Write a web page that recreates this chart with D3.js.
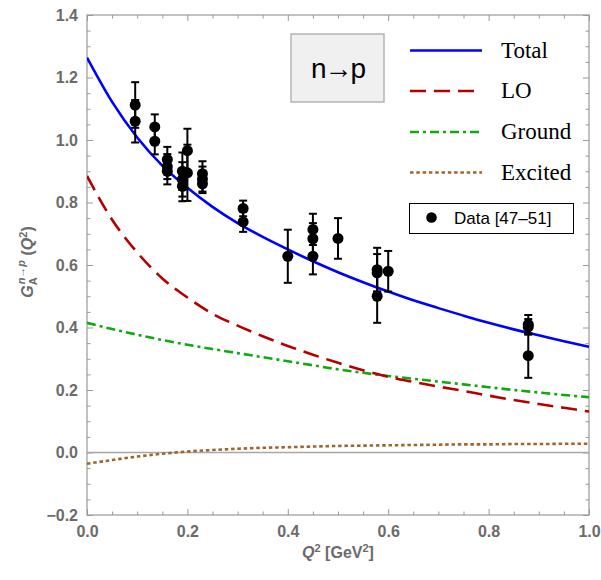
<!DOCTYPE html>
<html>
<head>
<meta charset="utf-8">
<script src="https://cdn.jsdelivr.net/npm/d3@7"></script>
<style>
  body { margin: 0; background: #fff; }
  svg { display: block; }
</style>
</head>
<body>
<div id="chart"></div>
<script>
// curve samples, Q^2 in GeV^2
var q2 = [0, 0.05, 0.1, 0.15, 0.2, 0.25, 0.3, 0.35, 0.4, 0.45, 0.5,
          0.55, 0.6, 0.65, 0.7, 0.75, 0.8, 0.85, 0.9, 0.95, 1.0]
var total = [1.264, 1.122, 1.008, 0.918, 0.847, 0.786, 0.734, 0.690, 0.650, 0.612, 0.577,
             0.545, 0.515, 0.487, 0.462, 0.438, 0.415, 0.394, 0.375, 0.356, 0.338]
var lo = [0.885, 0.745, 0.640, 0.557, 0.496, 0.444, 0.406, 0.372, 0.341, 0.313, 0.287,
          0.263, 0.242, 0.226, 0.211, 0.197, 0.182, 0.168, 0.155, 0.143, 0.131]
var ground = [0.415, 0.395, 0.377, 0.360, 0.345, 0.331, 0.318, 0.305, 0.292, 0.279, 0.266,
              0.255, 0.245, 0.236, 0.227, 0.218, 0.209, 0.200, 0.192, 0.184, 0.177]
var excited = [-0.036, -0.024, -0.013, -0.004, 0.003, 0.008, 0.012, 0.015, 0.017, 0.019, 0.021,
               0.022, 0.023, 0.024, 0.025, 0.026, 0.026, 0.027, 0.027, 0.028, 0.028]

// experimental points
var dataQ2 = [0.096, 0.096, 0.135, 0.135, 0.16, 0.16, 0.16,
              0.19, 0.19, 0.19, 0.2, 0.2, 0.23, 0.23, 0.23,
              0.311, 0.311, 0.4, 0.45, 0.45, 0.45, 0.5,
              0.578, 0.578, 0.578, 0.6, 0.879, 0.879, 0.879]
var dataG = [1.112, 1.060, 1.042, 0.996, 0.938, 0.915, 0.900,
             0.900, 0.874, 0.852, 0.966, 0.895, 0.892, 0.875, 0.860,
             0.781, 0.738, 0.628, 0.714, 0.684, 0.628, 0.685,
             0.585, 0.575, 0.500, 0.580, 0.410, 0.402, 0.310]
var dataErr = [0.073, 0.068, 0.040, 0.042, 0.040, 0.040, 0.042,
               0.060, 0.055, 0.048, 0.070, 0.090, 0.040, 0.040, 0.030,
               0.025, 0.032, 0.085, 0.050, 0.050, 0.058, 0.065,
               0.070, 0.060, 0.085, 0.065, 0.030, 0.025, 0.071]

var xTicks = [0, 0.2, 0.4, 0.6, 0.8, 1.0]
var yTicks = [-0.2, 0, 0.2, 0.4, 0.6, 0.8, 1.0, 1.2, 1.4]

var legendNames = ["Total", "LO", "Ground", "Excited"]

var width = 601, height = 580
var margin = { top: 15, right: 12, bottom: 65, left: 87 }
var w = width - margin.left - margin.right,
    h = height - margin.top - margin.bottom

var svg = d3.select("#chart").append("svg")
  .attr("width", width)
  .attr("height", height)

var g = svg.append("g")
  .attr("transform", "translate(" + margin.left + "," + margin.top + ")")

var xScale = d3.scaleLinear().domain([0, 1]).range([0, w])
var yScale = d3.scaleLinear().domain([-0.2, 1.4]).range([h, 0])

var axisColor = "#9a9a9a", labelColor = "#6b6b6b"
var fmt = d3.format(".1f")

// minor ticks every 0.05
var xMinor = d3.range(0, 1.0001, 0.05).filter(v => Math.abs(v * 5 - Math.round(v * 5)) > 1e-6)
var yMinor = d3.range(-0.2, 1.4001, 0.05).filter(v => Math.abs(v * 5 - Math.round(v * 5)) > 1e-6)

function drawAxis(axis, transform, cls) {
  var a = g.append("g").attr("class", cls).attr("transform", transform).call(axis)
  a.select(".domain").remove()
  a.selectAll(".tick line").attr("stroke", axisColor).attr("stroke-width", 1)
  a.selectAll(".tick text")
    .attr("fill", labelColor)
    .style("font-family", "'Liberation Sans', Arial, sans-serif")
    .style("font-size", "16px")
    .style("font-weight", "bold")
  return a
}

// bottom / left with labels
drawAxis(d3.axisBottom(xScale).tickValues(xTicks).tickSize(-6).tickPadding(11).tickFormat(fmt),
  "translate(0," + h + ")", "x-axis")
drawAxis(d3.axisBottom(xScale).tickValues(xMinor).tickSize(-3.5).tickFormat(""),
  "translate(0," + h + ")", "x-minor")
drawAxis(d3.axisLeft(yScale).tickValues(yTicks).tickSize(-6).tickPadding(9).tickFormat(fmt),
  "translate(0,0)", "y-axis")
drawAxis(d3.axisLeft(yScale).tickValues(yMinor).tickSize(-3.5).tickFormat(""),
  "translate(0,0)", "y-minor")
// top / right, no labels
drawAxis(d3.axisTop(xScale).tickValues(xTicks).tickSize(-6).tickFormat(""), "translate(0,0)", "x-top")
drawAxis(d3.axisTop(xScale).tickValues(xMinor).tickSize(-3.5).tickFormat(""), "translate(0,0)", "x-top-minor")
drawAxis(d3.axisRight(yScale).tickValues(yTicks).tickSize(-6).tickFormat(""), "translate(" + w + ",0)", "y-right")
drawAxis(d3.axisRight(yScale).tickValues(yMinor).tickSize(-3.5).tickFormat(""), "translate(" + w + ",0)", "y-right-minor")

// frame
g.append("rect")
  .attr("x", 0).attr("y", 0).attr("width", w).attr("height", h)
  .attr("fill", "none").attr("stroke", axisColor).attr("stroke-width", 1.2)

// zero line
g.append("line")
  .attr("x1", 0).attr("x2", w)
  .attr("y1", yScale(0)).attr("y2", yScale(0))
  .attr("stroke", "#a8a8a8").attr("stroke-width", 1.3)

g.append("clipPath").attr("id", "clip")
  .append("rect").attr("width", w).attr("height", h)

var series = [
  { values: ground, color: "#12a812", dash: "9,4,3,4" },
  { values: excited, color: "#a0652d", dash: "3.5,2.8" },
  { values: lo, color: "#b40000", dash: "16,8" },
  { values: total, color: "#0000ff", dash: null }
]

var line = d3.line()
  .x((d, i) => xScale(q2[i]))
  .y(d => yScale(d))
  .curve(d3.curveMonotoneX)

var plot = g.append("g").attr("clip-path", "url(#clip)")

series.forEach(s => {
  plot.append("path")
    .datum(s.values)
    .attr("d", line)
    .attr("fill", "none")
    .attr("stroke", s.color)
    .attr("stroke-width", 2.6)
    .attr("stroke-dasharray", s.dash)
})

// data with error bars
var pts = dataQ2.map((q, i) => ({ q: q, v: dataG[i], e: dataErr[i] }))

var eb = plot.append("g").selectAll("g")
  .data(pts)
  .enter().append("g")

eb.append("line")
  .attr("x1", d => xScale(d.q)).attr("x2", d => xScale(d.q))
  .attr("y1", d => yScale(d.v - d.e)).attr("y2", d => yScale(d.v + d.e))
  .attr("stroke", "#000").attr("stroke-width", 2)
eb.append("line")
  .attr("x1", d => xScale(d.q) - 4).attr("x2", d => xScale(d.q) + 4)
  .attr("y1", d => yScale(d.v + d.e)).attr("y2", d => yScale(d.v + d.e))
  .attr("stroke", "#000").attr("stroke-width", 2)
eb.append("line")
  .attr("x1", d => xScale(d.q) - 4).attr("x2", d => xScale(d.q) + 4)
  .attr("y1", d => yScale(d.v - d.e)).attr("y2", d => yScale(d.v - d.e))
  .attr("stroke", "#000").attr("stroke-width", 2)

plot.append("g").selectAll("circle")
  .data(pts)
  .enter().append("circle")
  .attr("cx", d => xScale(d.q))
  .attr("cy", d => yScale(d.v))
  .attr("r", 5.5)
  .attr("fill", "#000")

// n->p box
svg.append("rect")
  .attr("x", 291).attr("y", 34).attr("width", 93).attr("height", 68)
  .attr("fill", "#f0f0f0").attr("stroke", "#b4b4b4").attr("stroke-width", 1.5)
svg.append("text")
  .attr("x", 337.5).attr("y", 78)
  .attr("text-anchor", "middle")
  .style("font-family", "'Liberation Sans', Arial, sans-serif")
  .style("font-size", "28px")
  .style("letter-spacing", "-2px")
  .text("n→p")

// legend
var legendY = [50.5, 91, 132, 172.5]
var legend = svg.append("g")
legendNames.forEach((name, i) => {
  var s = [series[3], series[2], series[0], series[1]][i]
  legend.append("line")
    .attr("x1", 410).attr("x2", 482)
    .attr("y1", legendY[i]).attr("y2", legendY[i])
    .attr("stroke", s.color).attr("stroke-width", 2.6)
    .attr("stroke-dasharray", s.dash)
  legend.append("text")
    .attr("x", 501).attr("y", legendY[i] + 7)
    .style("font-family", "'Liberation Serif', 'Times New Roman', serif")
    .style("font-size", "23px")
    .text(name)
})

legend.append("rect")
  .attr("x", 409.5).attr("y", 203.5).attr("width", 164).attr("height", 30)
  .attr("fill", "#fff").attr("stroke", "#000").attr("stroke-width", 1)
legend.append("circle")
  .attr("cx", 431.5).attr("cy", 217.5).attr("r", 5.3).attr("fill", "#000")
legend.append("text")
  .attr("x", 454).attr("y", 224)
  .style("font-family", "'Liberation Sans', Arial, sans-serif")
  .style("font-size", "17px")
  .text("Data [47–51]")

// axis titles
var xTitle = svg.append("text")
  .attr("x", margin.left + w / 2).attr("y", 558)
  .attr("text-anchor", "middle")
  .attr("fill", labelColor)
  .style("font-family", "'Liberation Sans', Arial, sans-serif")
  .style("font-size", "16px")
  .style("font-weight", "bold")
xTitle.append("tspan").style("font-style", "italic").text("Q")
xTitle.append("tspan").attr("dy", -6).style("font-size", "11px").text("2")
xTitle.append("tspan").attr("dy", 6).text("  [GeV")
xTitle.append("tspan").attr("dy", -6).style("font-size", "11px").text("2")
xTitle.append("tspan").attr("dy", 6).text("]")

var yTitle = svg.append("text")
  .attr("transform", "translate(33,262) rotate(-90)")
  .attr("text-anchor", "middle")
  .attr("fill", labelColor)
  .style("font-family", "'Liberation Sans', Arial, sans-serif")
  .style("font-size", "16px")
  .style("font-weight", "bold")
yTitle.append("tspan").style("font-style", "italic").text("G")
yTitle.append("tspan").attr("dy", 4).style("font-size", "11px").text("A")
yTitle.append("tspan").attr("dx", -7).attr("dy", -12).style("font-size", "11px").style("font-style", "italic").text("n→p")
yTitle.append("tspan").attr("dy", 8).text(" (")
yTitle.append("tspan").style("font-style", "italic").text("Q")
yTitle.append("tspan").attr("dy", -6).style("font-size", "11px").text("2")
yTitle.append("tspan").attr("dy", 6).text(")")
</script>
</body>
</html>
